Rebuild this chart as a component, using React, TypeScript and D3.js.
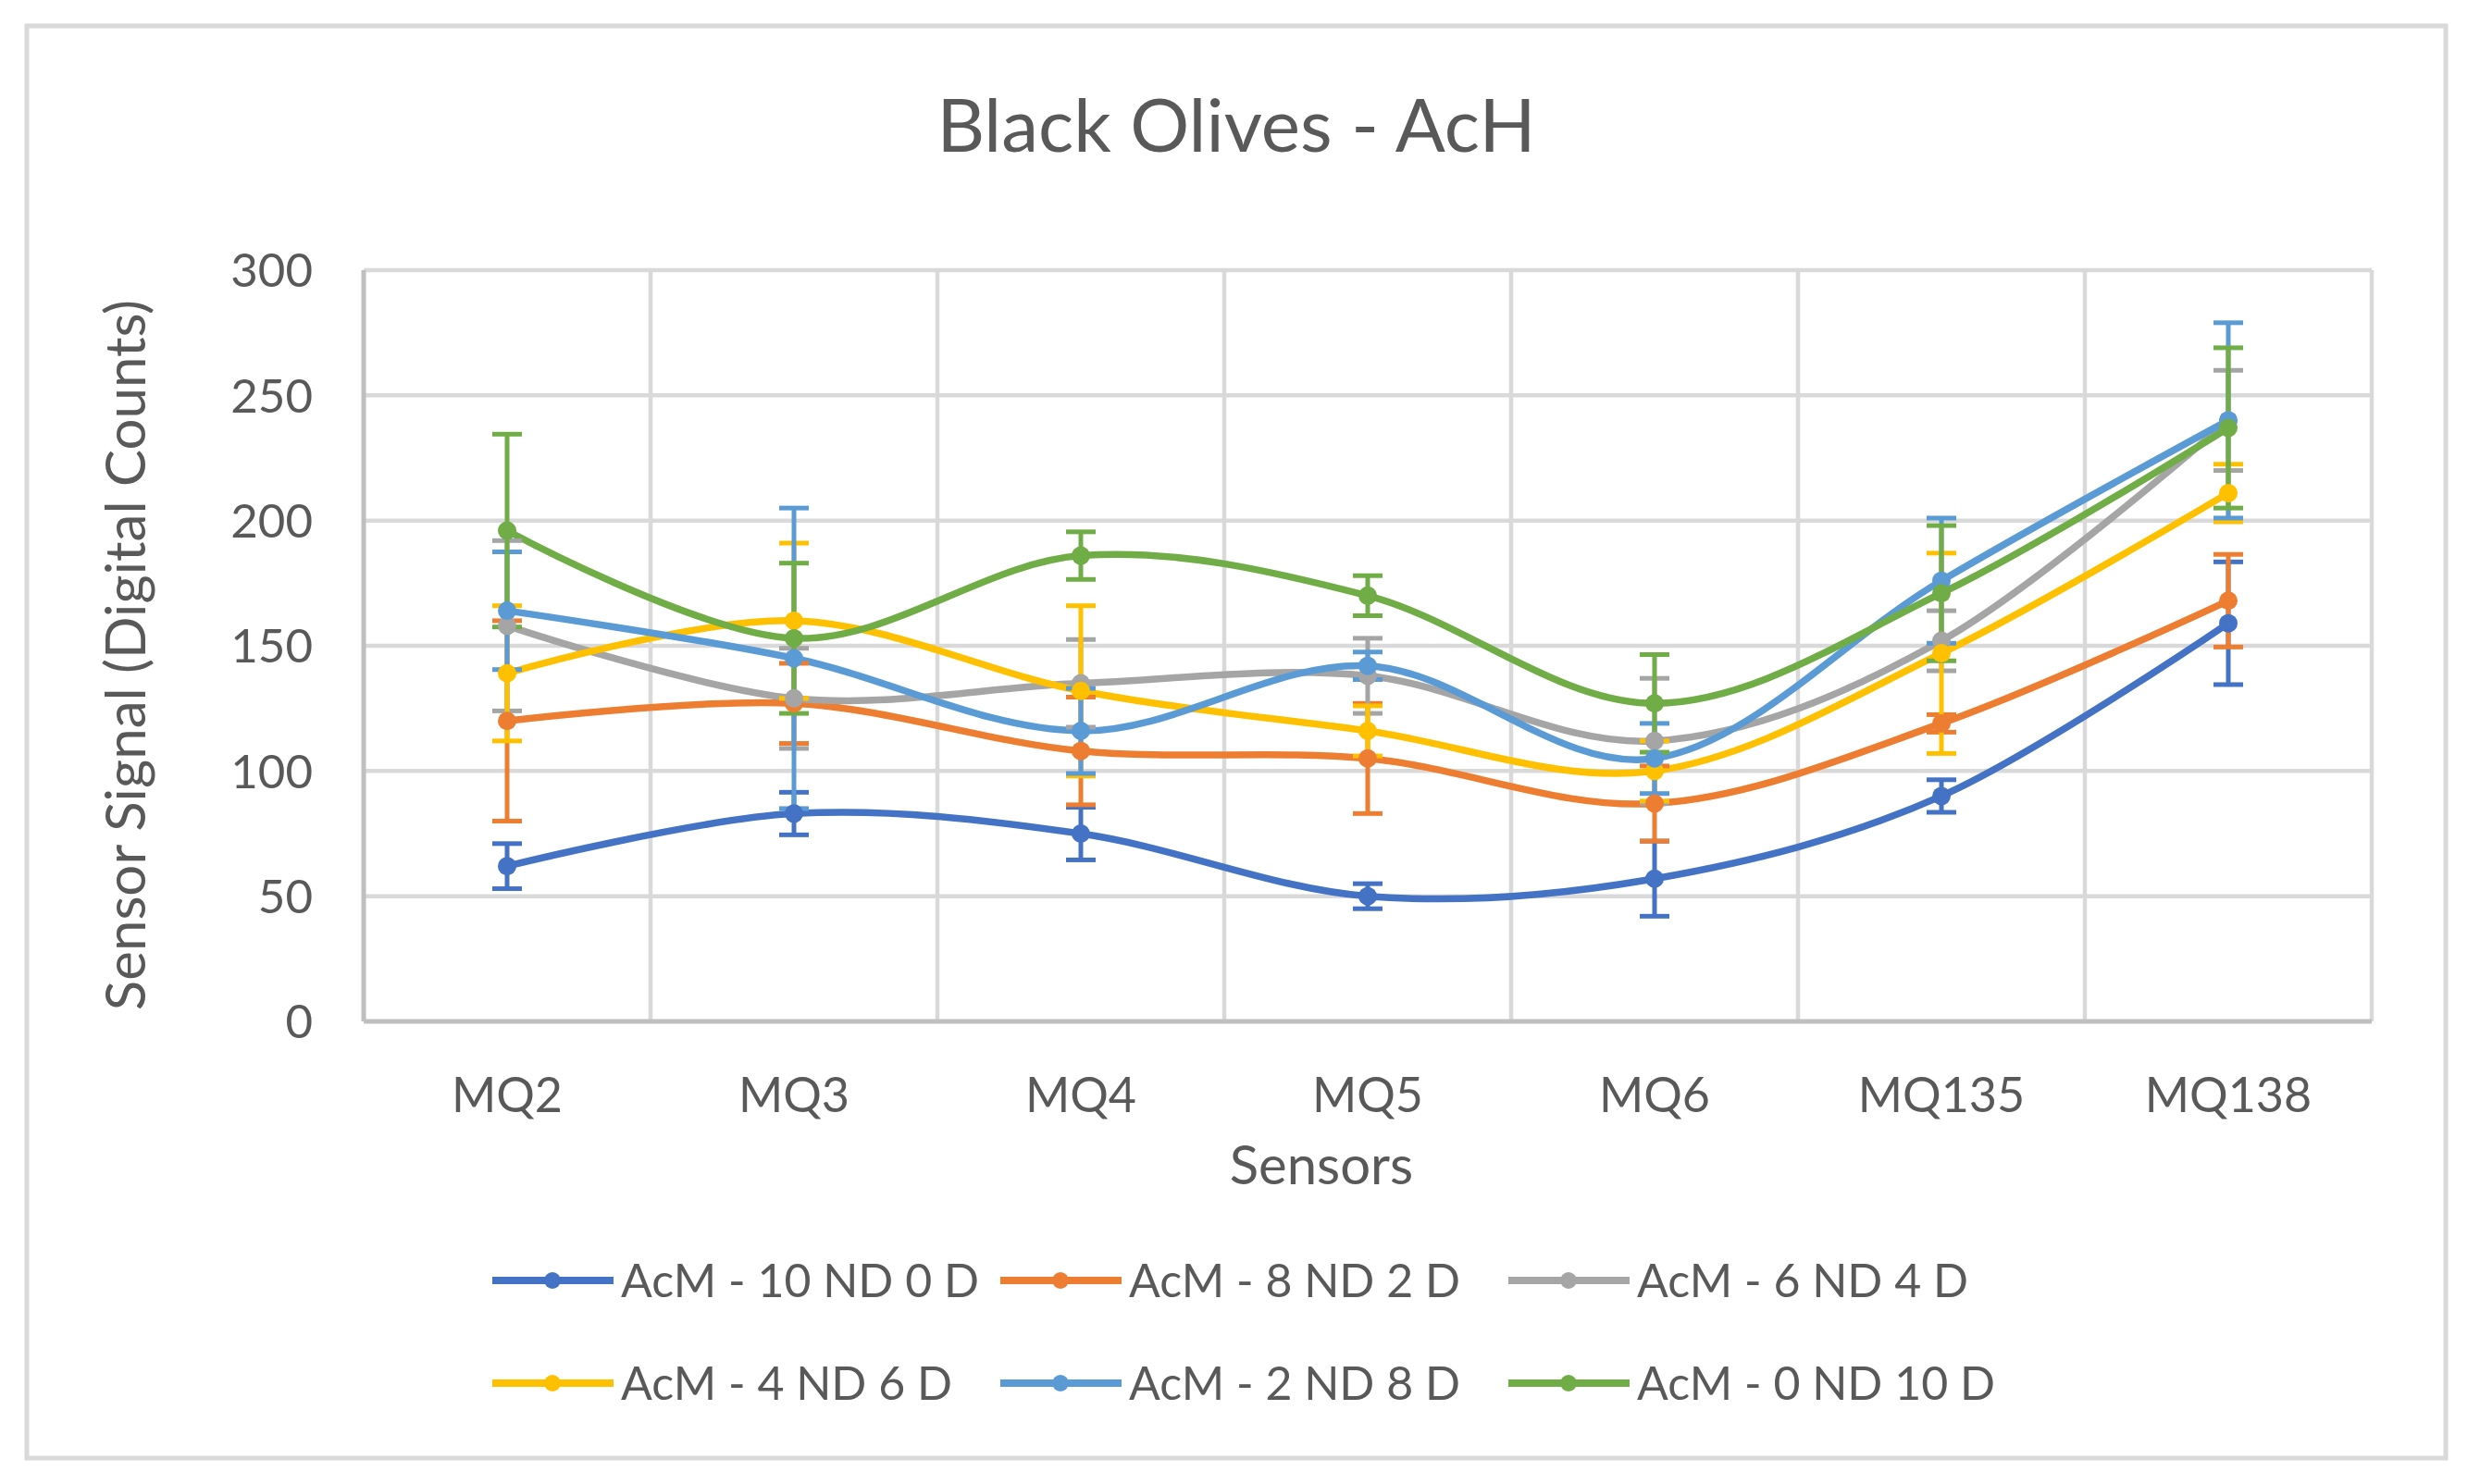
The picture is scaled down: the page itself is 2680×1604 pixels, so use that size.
import * as d3 from "d3";

// Sensor categories and axis ticks
const categories = ["MQ2", "MQ3", "MQ4", "MQ5", "MQ6", "MQ135", "MQ138"];
const yTicks = [0, 50, 100, 150, 200, 250, 300];

// Series labels and Excel default palette
const seriesNames = [
  "AcM - 10 ND 0 D",
  "AcM - 8 ND 2 D",
  "AcM - 6 ND 4 D",
  "AcM - 4 ND 6 D",
  "AcM - 2 ND 8 D",
  "AcM - 0 ND 10 D",
];
const seriesColors = ["#4472C4", "#ED7D31", "#A5A5A5", "#FFC000", "#5B9BD5", "#70AD47"];

// Means (digital counts)
const mean10ND0D = [62, 83, 75, 50, 57, 90, 159];
const mean8ND2D = [120, 127, 108, 105, 87, 119, 168];
const mean6ND4D = [158, 129, 135, 138, 112, 152, 240];
const mean4ND6D = [139, 160, 132, 116, 100, 147, 211];
const mean2ND8D = [164, 145, 116, 142, 105, 176, 240];
const mean0ND10D = [196, 153, 186, 170, 127, 171, 237];

// Error bar half-widths
const err10ND0D = [9, 8.5, 10.5, 5, 15, 6.5, 24.5];
const err8ND2D = [40, 16, 21.5, 22, 15, 3.5, 18.5];
const err6ND4D = [34, 20, 17.5, 15, 25, 12, 20];
const err4ND6D = [27, 31, 34, 10, 12, 40, 11.5];
const err2ND8D = [23.5, 60, 17, 5.5, 14, 25, 39];
const err0ND10D = [38.5, 30, 9.5, 8, 19.5, 27, 32];

const means = [mean10ND0D, mean8ND2D, mean6ND4D, mean4ND6D, mean2ND8D, mean0ND10D];
const errs = [err10ND0D, err8ND2D, err6ND4D, err4ND6D, err2ND8D, err0ND10D];

const W = 2680;
const H = 1604;
const FONT = "Lato, 'Open Sans', sans-serif";
const TEXT = "#595959";

export default function App() {
  const plot = { left: 393, right: 2563, top: 292, bottom: 1104 };

  const x = d3.scaleBand().domain(categories).range([plot.left, plot.right]);
  const cx = (c: string) => (x(c) as number) + x.bandwidth() / 2;
  const y = d3.scaleLinear().domain([0, 300]).range([plot.bottom, plot.top]);

  const line = d3
    .line<number>()
    .x((_, i) => cx(categories[i]))
    .y((d) => y(d))
    .curve(d3.curveCatmullRom.alpha(0));

  const capHalf = 16;
  const legendX0 = 532;
  const legendStep = 549;
  const legendRows = [1384, 1495];

  return (
    <svg
      width={W}
      height={H}
      style={{ position: "absolute", left: 0, top: 0, display: "block", background: "#fff" }}
      fontFamily={FONT}
    >
      <rect x={0} y={0} width={W} height={H} fill="#fff" />
      {/* chart frame */}
      <rect x={29} y={28} width={2614} height={1548} fill="none" stroke="#d9d9d9" strokeWidth={5} />

      {/* title */}
      <text x={1336} y={164} textAnchor="middle" fontSize={80} fill={TEXT}>
        Black Olives - AcH
      </text>

      {/* horizontal gridlines */}
      {yTicks.slice(1).map((t) => (
        <line key={t} x1={plot.left} x2={plot.right} y1={y(t)} y2={y(t)} stroke="#d9d9d9" strokeWidth={4.5} />
      ))}
      {/* vertical gridlines at category boundaries */}
      {categories.slice(1).map((c) => (
        <line key={c} x1={x(c)} x2={x(c)} y1={plot.top} y2={plot.bottom} stroke="#d9d9d9" strokeWidth={4.5} />
      ))}
      <line x1={plot.right} x2={plot.right} y1={plot.top} y2={plot.bottom} stroke="#d9d9d9" strokeWidth={4.5} />
      {/* axis lines */}
      <line x1={plot.left} x2={plot.left} y1={plot.top} y2={plot.bottom} stroke="#bfbfbf" strokeWidth={5} />
      <line x1={plot.left} x2={plot.right} y1={plot.bottom} y2={plot.bottom} stroke="#bfbfbf" strokeWidth={5} />

      {/* y tick labels */}
      {yTicks.map((t) => (
        <text key={t} x={338} y={y(t)} dy="0.36em" textAnchor="end" fontSize={51} fill={TEXT}>
          {t}
        </text>
      ))}
      {/* x tick labels */}
      {categories.map((c) => (
        <text key={c} x={cx(c)} y={1202} textAnchor="middle" fontSize={52} fill={TEXT}>
          {c}
        </text>
      ))}

      {/* axis titles */}
      <text x={1428} y={1280} textAnchor="middle" fontSize={58} fill={TEXT}>
        Sensors
      </text>
      <text
        transform={`translate(157,708) rotate(-90)`}
        textAnchor="middle"
        fontSize={60}
        fill={TEXT}
      >
        Sensor Signal (Digital Counts)
      </text>

      {/* series lines */}
      {means.map((m, s) => (
        <path key={s} d={line(m) ?? ""} fill="none" stroke={seriesColors[s]} strokeWidth={7.5} strokeLinejoin="round" />
      ))}

      {/* error bars */}
      {means.map((m, s) => (
        <g key={s} stroke={seriesColors[s]} strokeWidth={5}>
          {m.map((v, i) => {
            const px = cx(categories[i]);
            const hi = y(v + errs[s][i]);
            const lo = y(v - errs[s][i]);
            return (
              <g key={i}>
                <line x1={px} x2={px} y1={hi} y2={lo} />
                <line x1={px - capHalf} x2={px + capHalf} y1={hi} y2={hi} />
                <line x1={px - capHalf} x2={px + capHalf} y1={lo} y2={lo} />
              </g>
            );
          })}
        </g>
      ))}

      {/* markers */}
      {means.map((m, s) => (
        <g key={s} fill={seriesColors[s]}>
          {m.map((v, i) => (
            <circle key={i} cx={cx(categories[i])} cy={y(v)} r={10} />
          ))}
        </g>
      ))}

      {/* legend */}
      {seriesNames.map((name, s) => {
        const col = s % 3;
        const row = Math.floor(s / 3);
        const lx = legendX0 + col * legendStep;
        const ly = legendRows[row];
        return (
          <g key={name}>
            <line x1={lx} x2={lx + 131} y1={ly} y2={ly} stroke={seriesColors[s]} strokeWidth={8} />
            <circle cx={lx + 65} cy={ly} r={9} fill={seriesColors[s]} />
            <text x={lx + 139} y={ly} dy="0.36em" fontSize={50} fill={TEXT}>
              {name}
            </text>
          </g>
        );
      })}
    </svg>
  );
}
